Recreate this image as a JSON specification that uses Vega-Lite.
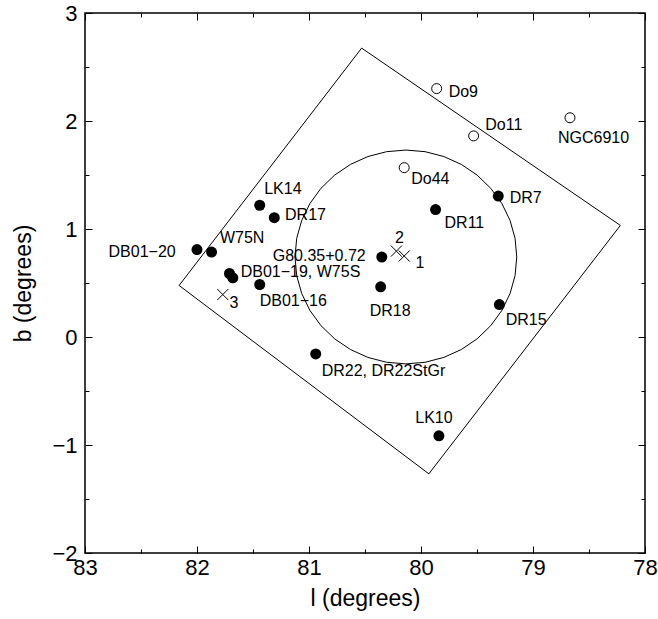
{
  "$schema": "https://vega.github.io/schema/vega-lite/v6.json",
  "autosize": {"type": "none"},
  "width": 560,
  "height": 540,
  "padding": {"left": 85, "top": 13, "right": 13, "bottom": 66},
  "background": "white",
  "config": {
    "view": {"stroke": "black", "strokeWidth": 1.5},
    "font": "Liberation Sans",
    "axis": {
      "grid": false, "domain": false, "tickColor": "black", "tickWidth": 1,
      "labelFont": "Liberation Sans", "labelFontSize": 22, "labelColor": "black",
      "titleFont": "Liberation Sans", "titleFontSize": 23, "titleFontWeight": "normal", "titleColor": "black"
    }
  },
  "datasets": {
    "box": [
      {"order": 0, "l": 82.16, "b": 0.477},
      {"order": 1, "l": 80.53, "b": 2.675},
      {"order": 2, "l": 78.22, "b": 1.033},
      {"order": 3, "l": 79.93, "b": -1.267},
      {"order": 4, "l": 82.16, "b": 0.477}
    ],
    "ring": [
      {"order": 0, "l": 81.125, "b": 0.741},
      {"order": 1, "l": 81.110, "b": 0.913},
      {"order": 2, "l": 81.065, "b": 1.080},
      {"order": 3, "l": 80.992, "b": 1.236},
      {"order": 4, "l": 80.893, "b": 1.377},
      {"order": 5, "l": 80.771, "b": 1.499},
      {"order": 6, "l": 80.630, "b": 1.598},
      {"order": 7, "l": 80.474, "b": 1.671},
      {"order": 8, "l": 80.307, "b": 1.716},
      {"order": 9, "l": 80.135, "b": 1.731},
      {"order": 10, "l": 79.963, "b": 1.716},
      {"order": 11, "l": 79.796, "b": 1.671},
      {"order": 12, "l": 79.640, "b": 1.598},
      {"order": 13, "l": 79.499, "b": 1.499},
      {"order": 14, "l": 79.377, "b": 1.377},
      {"order": 15, "l": 79.278, "b": 1.236},
      {"order": 16, "l": 79.205, "b": 1.080},
      {"order": 17, "l": 79.160, "b": 0.913},
      {"order": 18, "l": 79.145, "b": 0.741},
      {"order": 19, "l": 79.160, "b": 0.569},
      {"order": 20, "l": 79.205, "b": 0.402},
      {"order": 21, "l": 79.278, "b": 0.246},
      {"order": 22, "l": 79.377, "b": 0.105},
      {"order": 23, "l": 79.499, "b": -0.017},
      {"order": 24, "l": 79.640, "b": -0.116},
      {"order": 25, "l": 79.796, "b": -0.189},
      {"order": 26, "l": 79.963, "b": -0.234},
      {"order": 27, "l": 80.135, "b": -0.249},
      {"order": 28, "l": 80.307, "b": -0.234},
      {"order": 29, "l": 80.474, "b": -0.189},
      {"order": 30, "l": 80.630, "b": -0.116},
      {"order": 31, "l": 80.771, "b": -0.017},
      {"order": 32, "l": 80.893, "b": 0.105},
      {"order": 33, "l": 80.992, "b": 0.246},
      {"order": 34, "l": 81.065, "b": 0.402},
      {"order": 35, "l": 81.110, "b": 0.569},
      {"order": 36, "l": 81.125, "b": 0.741}
    ],
    "filled": [
      {"name": "LK14", "l": 81.44, "b": 1.22},
      {"name": "DR17", "l": 81.31, "b": 1.105},
      {"name": "DB01-20", "l": 82.0, "b": 0.81},
      {"name": "W75N", "l": 81.87, "b": 0.786},
      {"name": "DB01-19", "l": 81.71, "b": 0.588},
      {"name": "W75S", "l": 81.68, "b": 0.548},
      {"name": "DB01-16", "l": 81.44, "b": 0.486},
      {"name": "G80.35+0.72", "l": 80.35, "b": 0.74},
      {"name": "DR7", "l": 79.31, "b": 1.305},
      {"name": "DR11", "l": 79.87, "b": 1.18},
      {"name": "DR18", "l": 80.36, "b": 0.465},
      {"name": "DR15", "l": 79.30, "b": 0.30},
      {"name": "DR22", "l": 80.94, "b": -0.157},
      {"name": "LK10", "l": 79.84, "b": -0.915}
    ],
    "open": [
      {"name": "Do9", "l": 79.86, "b": 2.30},
      {"name": "Do11", "l": 79.53, "b": 1.862},
      {"name": "NGC6910", "l": 78.67, "b": 2.03},
      {"name": "Do44", "l": 80.15, "b": 1.568}
    ],
    "crosses": [
      {"name": "1", "l": 80.15, "b": 0.75},
      {"name": "2", "l": 80.22, "b": 0.795},
      {"name": "3", "l": 81.77, "b": 0.393}
    ],
    "labels": [
      {"text": "LK14", "l": 81.40, "b": 1.367},
      {"text": "DR17", "l": 81.214, "b": 1.126},
      {"text": "W75N", "l": 81.795, "b": 0.913},
      {"text": "DB01−20", "l": 82.79, "b": 0.783},
      {"text": "G80.35+0.72", "l": 81.324, "b": 0.746},
      {"text": "DB01−19, W75S", "l": 81.61, "b": 0.60},
      {"text": "DB01−16", "l": 81.44, "b": 0.331},
      {"text": "Do9", "l": 79.753, "b": 2.27},
      {"text": "Do11", "l": 79.426, "b": 1.961},
      {"text": "NGC6910", "l": 78.777, "b": 1.838},
      {"text": "Do44", "l": 80.087, "b": 1.46},
      {"text": "DR7", "l": 79.208, "b": 1.29},
      {"text": "DR11", "l": 79.79, "b": 1.058},
      {"text": "DR18", "l": 80.458, "b": 0.238},
      {"text": "DR15", "l": 79.244, "b": 0.155},
      {"text": "DR22, DR22StGr", "l": 80.887, "b": -0.312},
      {"text": "LK10", "l": 80.051, "b": -0.751}
    ],
    "numlabels": [
      {"text": "1", "l": 80.05, "b": 0.687},
      {"text": "2", "l": 80.232, "b": 0.919},
      {"text": "3", "l": 81.71, "b": 0.316}
    ]
  },
  "resolve": {"axis": {"x": "independent", "y": "independent"}},
  "layer": [
    {
      "data": {"name": "box"},
      "mark": {"type": "line", "color": "black", "strokeWidth": 1},
      "encoding": {
        "x": {"field": "l", "type": "quantitative", "title": "l (degrees)",
              "scale": {"domain": [78, 83], "reverse": true, "nice": false, "zero": false},
              "axis": {"orient": "bottom", "values": [78, 79, 80, 81, 82, 83], "tickSize": -7, "labelPadding": 11, "titlePadding": 9, "labelFlush": false}},
        "y": {"field": "b", "type": "quantitative", "title": "b (degrees)",
              "scale": {"domain": [-2, 3], "nice": false, "zero": false},
              "axis": {"orient": "left", "values": [-2, -1, 0, 1, 2, 3], "tickSize": -7, "labelPadding": 15, "titlePadding": 16, "labelFlush": false}},
        "order": {"field": "order", "type": "quantitative"}
      }
    },
    {
      "data": {"name": "ring"},
      "mark": {"type": "line", "color": "black", "strokeWidth": 1},
      "encoding": {
        "x": {"field": "l", "type": "quantitative",
              "axis": {"orient": "bottom", "values": [78.5, 79.5, 80.5, 81.5, 82.5], "tickSize": -4, "labels": false, "title": null}},
        "y": {"field": "b", "type": "quantitative",
              "axis": {"orient": "left", "values": [-1.5, -0.5, 0.5, 1.5, 2.5], "tickSize": -4, "labels": false, "title": null}},
        "order": {"field": "order", "type": "quantitative"}
      }
    },
    {
      "data": {"name": "filled"},
      "mark": {"type": "point", "shape": "circle", "filled": true, "color": "black", "opacity": 1, "size": 121},
      "encoding": {
        "x": {"field": "l", "type": "quantitative",
              "axis": {"orient": "top", "values": [78, 79, 80, 81, 82, 83], "tickSize": -7, "labels": false, "title": null}},
        "y": {"field": "b", "type": "quantitative",
              "axis": {"orient": "right", "values": [-2, -1, 0, 1, 2, 3], "tickSize": -7, "labels": false, "title": null}}
      }
    },
    {
      "data": {"name": "open"},
      "mark": {"type": "point", "shape": "circle", "filled": false, "color": "black", "opacity": 1, "strokeWidth": 1, "size": 100},
      "encoding": {
        "x": {"field": "l", "type": "quantitative",
              "axis": {"orient": "top", "values": [78.5, 79.5, 80.5, 81.5, 82.5], "tickSize": -4, "labels": false, "title": null}},
        "y": {"field": "b", "type": "quantitative",
              "axis": {"orient": "right", "values": [-1.5, -0.5, 0.5, 1.5, 2.5], "tickSize": -4, "labels": false, "title": null}}
      }
    },
    {
      "data": {"name": "crosses"},
      "mark": {"type": "point", "shape": "M-1,-1L1,1M-1,1L1,-1", "filled": false, "color": "black", "opacity": 1, "strokeWidth": 1, "size": 121},
      "encoding": {
        "x": {"field": "l", "type": "quantitative", "axis": null},
        "y": {"field": "b", "type": "quantitative", "axis": null}
      }
    },
    {
      "data": {"name": "labels"},
      "mark": {"type": "text", "align": "left", "baseline": "middle", "fontSize": 16, "font": "Liberation Sans", "color": "black"},
      "encoding": {
        "x": {"field": "l", "type": "quantitative", "axis": null},
        "y": {"field": "b", "type": "quantitative", "axis": null},
        "text": {"field": "text", "type": "nominal"}
      }
    },
    {
      "data": {"name": "numlabels"},
      "mark": {"type": "text", "align": "left", "baseline": "middle", "fontSize": 16, "font": "Liberation Sans", "color": "black"},
      "encoding": {
        "x": {"field": "l", "type": "quantitative", "axis": null},
        "y": {"field": "b", "type": "quantitative", "axis": null},
        "text": {"field": "text", "type": "nominal"}
      }
    }
  ]
}
